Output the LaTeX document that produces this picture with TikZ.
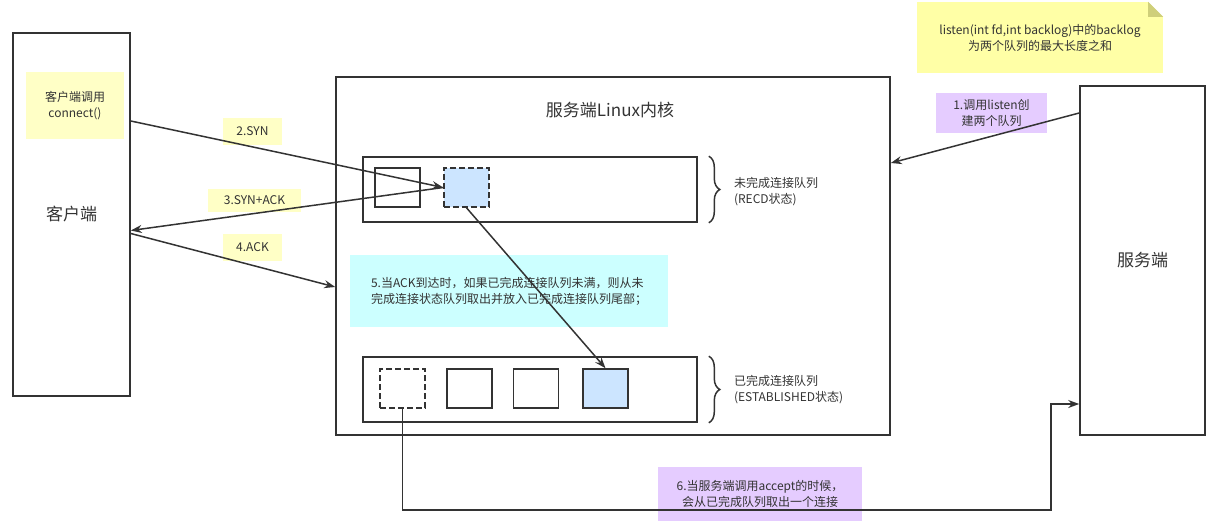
\documentclass[tikz,border=0pt]{standalone}
\usepackage{fontspec}
\setmainfont{Noto Sans CJK SC}
\usepackage{tikz}
\usetikzlibrary{arrows.meta,calc,positioning,decorations.pathreplacing}
\usepackage{xcolor}
\definecolor{ink}{HTML}{333333}
\definecolor{notey}{HTML}{FFFFC6}
\definecolor{stickyy}{HTML}{FFFFA6}
\definecolor{foldy}{HTML}{CFCF7A}
\definecolor{lilac}{HTML}{E5CCFF}
\definecolor{cyanbg}{HTML}{CCFFFF}
\definecolor{slotblue}{HTML}{CCE5FF}

\tikzset{
  box/.style={draw=ink,line width=1.6pt,inner sep=0pt,text=ink},
  slot/.style={box,minimum width=45pt,minimum height=39pt},
  tag/.style={inner sep=0pt,text=ink,font=\fontsize{12}{16}\selectfont,align=center},
  big/.style={font=\fontsize{17}{21}\selectfont},
  dashbox/.style={dash pattern=on 6pt off 3pt},
  brc/.style={draw=ink,line width=1.5pt,decorate,decoration={brace,amplitude=11pt}},
  arr/.style={draw=ink,line width=1.5pt,-{Stealth[length=11pt,width=8pt]}},
}

\begin{document}
\begin{tikzpicture}[x=1pt,y=-1pt]
\useasboundingbox (0,0) rectangle (1220,532);
% client and server
\node[box,big,minimum width=117,minimum height=363] (client) at (71.5,214.5) {客户端};
\node[tag,fill=notey,minimum width=98,minimum height=67] (cnote) at (75,105.5) {客户端调用\\connect()};
\node[box,big,minimum width=125,minimum height=349] (server) at (1142.5,260.5) {服务端};
% kernel with both queues
\node[box,minimum width=554,minimum height=358] (kernel) at (613,256) {};
\node[text=ink,big] (ktitle) at (610,110) {服务端Linux内核};
\node[box,minimum width=334,minimum height=65] (q1) at (530,189.5) {};
\node[slot] (q1a) at (397.5,187.5) {};
\node[slot,dashbox,fill=slotblue] (q1b) at (466.5,187.5) {};
\node[box,minimum width=334,minimum height=65] (q2) at (530,389.5) {};
\node[slot,dashbox] (q2a) at (402.5,388.5) {};
\node[slot] (q2b) at (469.5,388.5) {};
\node[slot] (q2c) at (536,388.5) {};
\node[slot,fill=slotblue] (q2d) at (605.5,388.5) {};
\draw[brc] ($(q1.north east)+(11,0)$) -- ($(q1.south east)+(11,0)$);
\draw[brc] ($(q2.north east)+(11,0)$) -- ($(q2.south east)+(11,0)$);
\node[tag,anchor=west,align=left] (q1txt) at ($(q1.east)+(36,2)$) {未完成连接队列\\(RECD状态)};
\node[tag,anchor=west,align=left] (q2txt) at ($(q2.east)+(36,0)$) {已完成连接队列\\(ESTABLISHED状态)};
\node[tag,fill=cyanbg,minimum width=318,minimum height=72,align=left] (note5) at (509,291) {5.当ACK到达时，如果已完成连接队列未满，则从未\\完成连接状态队列取出并放入已完成连接队列尾部；};
% sticky note
\node[tag,fill=stickyy,minimum width=246,minimum height=71] (sticky) at (1040,37.5) {listen(int fd,int backlog)中的backlog\\为两个队列的最大长度之和};
\fill[white] ($(sticky.north east)+(-15,0)$) -- (sticky.north east) -- ($(sticky.north east)+(0,15)$) -- cycle;
\fill[foldy] ($(sticky.north east)+(-15,0)$) -- ($(sticky.north east)+(0,15)$) -- ($(sticky.north east)+(-15,15)$) -- cycle;
% step labels
\node[tag,fill=lilac,minimum width=111,minimum height=40] (lbl1) at (991.5,113) {1.调用listen创\\建两个队列};
\node[tag,fill=notey,minimum width=59,minimum height=27] (lbl2) at (252.5,131.5) {2.SYN};
\node[tag,fill=notey,minimum width=93,minimum height=23] (lbl3) at (254.5,200.5) {3.SYN+ACK};
\node[tag,fill=notey,minimum width=59,minimum height=27] (lbl4) at (252.5,247.5) {4.ACK};
\node[tag,fill=lilac,minimum width=204,minimum height=54] (lbl6) at (760,494) {6.当服务端调用accept的时候，\\会从已完成队列取出一个连接};
% connectors
\draw[arr] (server.west |- lbl1) -- ($(kernel.east)+(0,-93)$);
\draw[arr] ($(client.east)+(0,-93.5)$) -- (q1b.west);
\draw[arr] (q1b.west) -- ($(client.east)+(0,16)$);
\draw[arr] ($(client.east)+(0,19)$) -- ($(kernel.west)+(0,31)$);
\draw[arr] (q1b.south) -- (q2d.north);
\coordinate (bend) at (1051,510);
\draw[arr] (q2a.south) |- (bend) |- ($(server.west)+(0,143.5)$);
\end{tikzpicture}
\end{document}
